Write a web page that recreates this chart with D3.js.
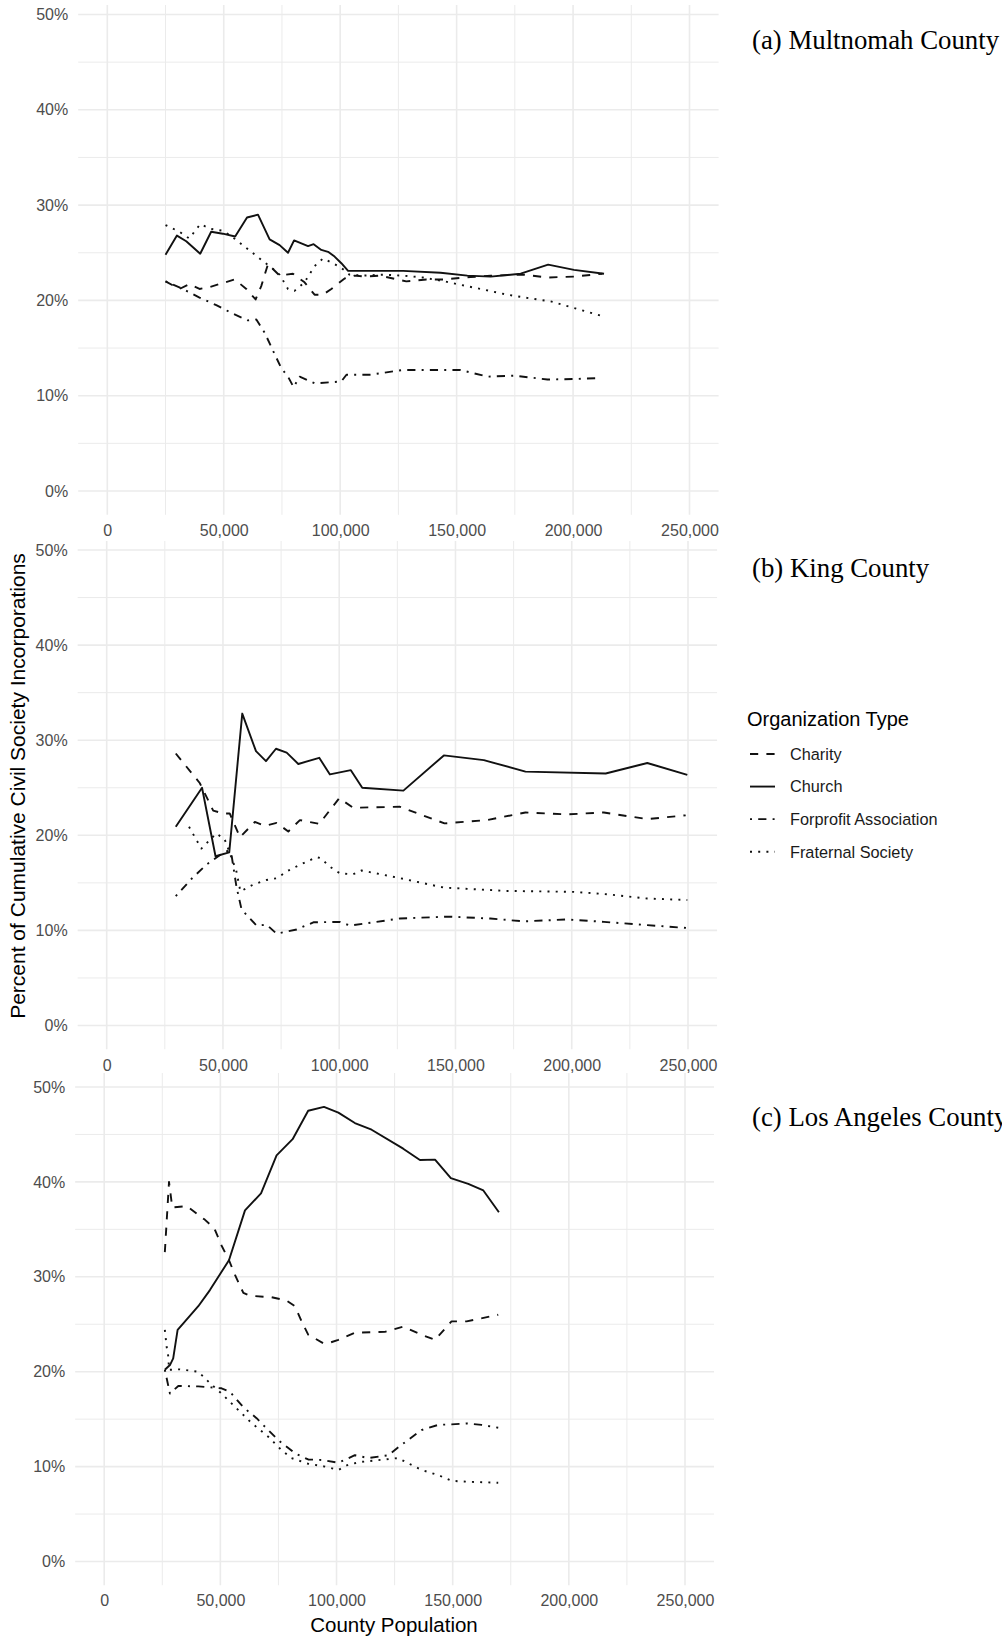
<!DOCTYPE html>
<html>
<head>
<meta charset="utf-8">
<script src="https://cdn.jsdelivr.net/npm/d3@7"></script>
<style>
  html, body { margin: 0; padding: 0; background: #fff; }
  svg { display: block; }
</style>
</head>
<body>
<svg id="chart" width="1002" height="1638"></svg>
<script>
// ---- Data: [county population, percent of cumulative incorporations] ----

// Multnomah County
const multnomahCharity = [[25000,22.0],[31000,21.2],[35200,21.7],[39600,21.2],[43900,21.4],[54700,22.2],[59700,21.2],[63700,20.1],[66100,21.5],[69000,23.8],[74000,22.6],[79700,22.8],[84700,21.9],[89000,20.6],[92600,20.6],[96200,21.2],[101900,22.3],[106200,22.6],[111200,22.5],[117000,22.6],[122700,22.3],[128400,22.0],[137000,22.2],[144200,22.2],[156000,22.45],[164600,22.6],[179000,22.7],[189000,22.4],[200400,22.5],[212600,22.8]];
const multnomahChurch = [[25000,24.8],[29900,26.8],[33900,26.2],[39900,24.9],[44600,27.2],[49600,27.0],[54900,26.7],[60000,28.7],[64700,29.0],[69700,26.4],[74000,25.8],[77600,25.0],[80200,26.3],[86200,25.7],[88600,25.9],[91900,25.3],[94800,25.1],[97600,24.6],[100500,23.9],[103400,23.1],[127000,23.1],[143100,22.9],[154600,22.6],[164600,22.5],[177500,22.8],[189300,23.75],[200400,23.2],[213300,22.8]];
const multnomahForprofit = [[25000,22.0],[32400,21.2],[39600,20.3],[46800,19.5],[54000,18.6],[60400,17.9],[64000,18.0],[67600,16.6],[71200,14.7],[74700,12.9],[77600,12.0],[80000,10.9],[82600,12.0],[89000,11.3],[95500,11.4],[100500,11.5],[102700,12.2],[112700,12.2],[127000,12.7],[138500,12.7],[151700,12.7],[163200,12.0],[174700,12.1],[189000,11.7],[200400,11.75],[211200,11.85]];
const multnomahFraternal = [[25000,27.9],[31000,27.2],[35200,26.5],[39900,28.0],[44600,27.5],[49900,27.3],[55100,26.4],[59700,25.5],[65400,24.4],[69700,23.6],[74000,22.7],[77600,21.2],[80400,21.0],[84700,21.9],[89000,23.6],[92600,24.4],[96900,23.9],[100500,23.4],[104000,22.7],[109800,22.6],[118400,22.7],[127000,22.6],[135600,22.4],[144900,22.0],[150300,21.7],[160300,21.2],[171800,20.6],[181800,20.2],[190400,19.9],[200400,19.2],[212600,18.35]];

// King County
const kingCharity = [[29700,28.6],[40000,25.5],[45800,22.6],[50000,22.3],[52900,22.3],[57300,19.8],[63700,21.4],[68000,21.0],[73100,21.3],[78100,20.4],[83100,21.6],[91400,21.2],[100000,23.9],[106000,22.9],[126100,23.0],[145300,21.25],[163600,21.6],[180100,22.4],[198000,22.2],[213800,22.4],[232500,21.7],[249000,22.1]];
const kingChurch = [[29700,20.9],[41000,25.0],[46800,17.8],[52700,18.2],[58300,32.8],[64200,28.85],[68500,27.8],[72800,29.1],[77400,28.7],[82400,27.5],[91400,28.15],[96000,26.4],[105000,26.85],[109900,25.0],[127600,24.7],[145000,28.4],[162200,27.9],[180100,26.7],[214600,26.5],[232500,27.6],[249700,26.35]];
const kingForprofit = [[29700,13.6],[36400,15.4],[42800,16.9],[48600,17.9],[52300,18.4],[53700,17.9],[55800,14.6],[58000,12.2],[64500,10.5],[68800,10.6],[73100,9.65],[81700,10.1],[88900,10.85],[100300,10.9],[104600,10.5],[126100,11.25],[146900,11.45],[165000,11.25],[179400,10.95],[198000,11.15],[213800,10.9],[232500,10.55],[249700,10.25]];
const kingFraternal = [[35400,20.9],[40700,18.6],[47100,20.2],[50700,19.6],[53600,17.7],[55700,16.3],[57500,14.1],[62900,14.8],[68700,15.3],[73400,15.5],[77400,16.2],[83100,16.9],[90300,17.7],[92000,17.6],[96000,16.7],[100300,16.0],[106000,15.9],[109600,16.3],[126000,15.5],[145000,14.5],[172200,14.15],[200900,14.05],[215300,13.8],[232500,13.35],[249700,13.2]];

// Los Angeles County
const laCharity = [[26100,32.6],[27900,40.0],[29300,37.3],[35500,37.45],[43400,36.0],[47400,35.1],[50500,33.3],[53700,31.75],[56300,30.2],[59900,28.3],[62700,28.0],[72000,27.85],[78500,27.5],[82100,26.9],[85000,25.3],[87800,23.9],[94300,23.0],[97200,23.07],[100800,23.35],[107900,24.1],[120800,24.2],[128700,24.75],[136600,23.9],[142400,23.35],[149500,25.3],[156000,25.3],[169600,26.0]];
const laChurch = [[26100,20.2],[28300,20.7],[29700,21.4],[31600,24.4],[34800,25.3],[40500,26.9],[45500,28.6],[53700,31.75],[60600,37.0],[67500,38.8],[74200,42.8],[81100,44.5],[87800,47.5],[94600,47.9],[100800,47.3],[107900,46.2],[115100,45.5],[128700,43.5],[135900,42.3],[142400,42.35],[149200,40.4],[156700,39.8],[163200,39.1],[169900,36.8]];
const laForprofit = [[26100,20.2],[28300,17.7],[31900,18.5],[40500,18.45],[50500,18.25],[54100,17.9],[59900,16.25],[65600,15.1],[70600,13.85],[74900,12.8],[82100,11.4],[87800,10.75],[93600,10.7],[100800,10.4],[107900,11.2],[113700,10.9],[122300,11.2],[128000,12.3],[136600,13.85],[143800,14.4],[149500,14.45],[156000,14.55],[162400,14.4],[169600,14.1]];
const laFraternal = [[26100,24.4],[26900,22.6],[27600,21.6],[27900,20.2],[32600,20.25],[40500,20.0],[45500,18.8],[50500,17.7],[56300,16.3],[63400,14.6],[70600,13.15],[76300,11.75],[80600,10.9],[87800,10.3],[95000,10.0],[100800,9.65],[105000,10.2],[110800,10.5],[120800,10.75],[126500,10.9],[130900,10.35],[136600,9.65],[143800,9.1],[149500,8.5],[156700,8.4],[169600,8.3]];

// ---- Categories and tick labels ----
const organizationTypes = ["Charity", "Church", "Forprofit Association", "Fraternal Society"];
const panelTitles = ["(a) Multnomah County", "(b) King County", "(c) Los Angeles County"];
const xTickValues = [0, 50000, 100000, 150000, 200000, 250000];
const xMinorValues = [25000, 75000, 125000, 175000, 225000];
const yTickValues = [0, 10, 20, 30, 40, 50];
const yMinorValues = [5, 15, 25, 35, 45];

// ---- Styling ----
const lineColor = "#111";
const lineWidth = 1.9;
const dashFor = {
  "Charity": "8.2,8.2",
  "Church": null,
  "Forprofit Association": "2,6.2,8.2,6.2",
  "Fraternal Society": "2,6.2"
};

// Pixel placement of each facet (x: pixel of 0 and 250,000; y: pixel of 0% and 50%)
const panels = [
  { title: panelTitles[0], series: [multnomahCharity, multnomahChurch, multnomahForprofit, multnomahFraternal],
    x0: 107.3, x1: 689.5, y0: 491, y1: 14.5, top: 5, labelPad: 9.5, titleY: 49 },
  { title: panelTitles[1], series: [kingCharity, kingChurch, kingForprofit, kingFraternal],
    x0: 106.7, x1: 688, y0: 1025.5, y1: 550, top: 541, labelPad: 10.7, titleY: 577 },
  { title: panelTitles[2], series: [laCharity, laChurch, laForprofit, laFraternal],
    x0: 104.2, x1: 685, y0: 1561.5, y1: 1087, top: 1073, labelPad: 9.7, titleY: 1126 }
];

const svg = d3.select("#chart");
const sansFont = "'Liberation Sans', Arial, Helvetica, sans-serif";
const serifFont = "'Liberation Serif', 'Times New Roman', Times, serif";

panels.forEach(p => {
  const x = d3.scaleLinear().domain([0, 250000]).range([p.x0, p.x1]);
  const y = d3.scaleLinear().domain([0, 50]).range([p.y0, p.y1]);
  const left = x(-12500), right = x(262500);
  const bottom = y(-2.5);

  const g = svg.append("g");

  // grid: minor then major
  g.append("g").selectAll("line").data(xMinorValues).join("line")
    .attr("x1", d => x(d)).attr("x2", d => x(d))
    .attr("y1", p.top).attr("y2", bottom)
    .attr("stroke", "#ebebeb").attr("stroke-width", 1.0);
  g.append("g").selectAll("line").data(yMinorValues).join("line")
    .attr("x1", left).attr("x2", right)
    .attr("y1", d => y(d)).attr("y2", d => y(d))
    .attr("stroke", "#ebebeb").attr("stroke-width", 1.0);
  g.append("g").selectAll("line").data(xTickValues).join("line")
    .attr("x1", d => x(d)).attr("x2", d => x(d))
    .attr("y1", p.top).attr("y2", bottom)
    .attr("stroke", "#ebebeb").attr("stroke-width", 1.6);
  g.append("g").selectAll("line").data(yTickValues).join("line")
    .attr("x1", left).attr("x2", right)
    .attr("y1", d => y(d)).attr("y2", d => y(d))
    .attr("stroke", "#ebebeb").attr("stroke-width", 1.6);

  // axes (labels only)
  const yAxis = g.append("g").attr("transform", `translate(${left},0)`)
    .call(d3.axisLeft(y).tickValues(yTickValues).tickFormat(d => d + "%").tickSize(0).tickPadding(10));
  const xAxis = g.append("g").attr("transform", `translate(0,${bottom})`)
    .call(d3.axisBottom(x).tickValues(xTickValues).tickFormat(d3.format(",")).tickSize(0).tickPadding(p.labelPad));
  [yAxis, xAxis].forEach(a => {
    a.select(".domain").remove();
    a.selectAll("text").attr("fill", "#4d4d4d").attr("font-size", 16).attr("font-family", sansFont);
  });

  // series lines
  const line = d3.line().x(d => x(d[0])).y(d => y(d[1]));
  organizationTypes.forEach((name, i) => {
    g.append("path")
      .datum(p.series[i])
      .attr("d", line)
      .attr("fill", "none")
      .attr("stroke", lineColor)
      .attr("stroke-width", lineWidth)
      .attr("stroke-linejoin", "round")
      .attr("stroke-linecap", "butt")
      .attr("stroke-dasharray", dashFor[name]);
  });

  // facet title
  svg.append("text")
    .attr("x", 752).attr("y", p.titleY)
    .attr("font-family", serifFont).attr("font-size", 26.8)
    .attr("fill", "#000")
    .text(p.title);
});

// axis titles
svg.append("text")
  .attr("transform", "translate(25,786) rotate(-90)")
  .attr("text-anchor", "middle")
  .attr("font-family", sansFont).attr("font-size", 21).attr("fill", "#000")
  .text("Percent of Cumulative Civil Society Incorporations");

svg.append("text")
  .attr("x", 394).attr("y", 1632)
  .attr("text-anchor", "middle")
  .attr("font-family", sansFont).attr("font-size", 20.5).attr("fill", "#000")
  .text("County Population");

// legend
const legend = svg.append("g").attr("transform", "translate(747,0)");
legend.append("text")
  .attr("x", 0).attr("y", 726)
  .attr("font-family", sansFont).attr("font-size", 20).attr("fill", "#000")
  .text("Organization Type");
const keyY = d3.scalePoint().domain(organizationTypes).range([754, 851.7]);
const items = legend.selectAll("g.item").data(organizationTypes).join("g")
  .attr("transform", d => `translate(0,${keyY(d)})`);
items.append("line")
  .attr("x1", 3).attr("x2", 28).attr("y1", 0).attr("y2", 0)
  .attr("stroke", lineColor).attr("stroke-width", lineWidth)
  .attr("stroke-dasharray", d => dashFor[d]);
items.append("text")
  .attr("x", 43).attr("y", 0).attr("dy", "0.36em")
  .attr("font-family", sansFont).attr("font-size", 16.3).attr("fill", "#1a1a1a")
  .text(d => d);
</script>
</body>
</html>
